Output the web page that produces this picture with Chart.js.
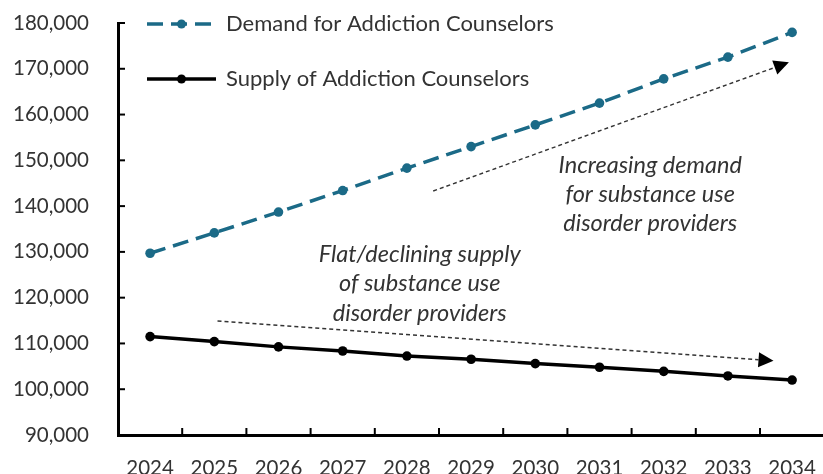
<!DOCTYPE html>
<html>
<head>
<meta charset="utf-8">
<script src="https://cdn.jsdelivr.net/npm/chart.js@4.4.1/dist/chart.umd.min.js"></script>
<style>
  html, body { margin: 0; padding: 0; background: #fff; overflow: hidden; }
  #wrap { width: 829px; height: 474px; }
  #c { width: 829px; height: 474px; display: block; }
</style>
</head>
<body>
<div id="wrap"><canvas id="c" width="829" height="474"></canvas></div>
<script>
// Projected counselor workforce, 2024-2034
const years = ['2024','2025','2026','2027','2028','2029','2030','2031','2032','2033','2034'];
const demand = [129700, 134150, 138700, 143400, 148300, 153000, 157750, 162500, 167800, 172550, 177950];
const supply = [111500, 110400, 109250, 108350, 107250, 106550, 105600, 104800, 103900, 102900, 102000];
const seriesNames = ['Demand for Addiction Counselors', 'Supply of Addiction Counselors'];
const yMin = 90000, yMax = 180000, yStep = 5000, yLabelStep = 10000;

// Callout notes: arrows given as [category index, value] pairs, text anchored the same way
const demandNote = ['Increasing demand', 'for substance use', 'disorder providers'];
const supplyNote = ['Flat/declining supply', 'of substance use', 'disorder providers'];
const demandArrow = { from: [4.41, 143300], to: [9.95, 171400] };
const supplyArrow = { from: [1.05, 114900], to: [9.71, 106200] };
const demandNoteAt = [7.79, 148800];
const supplyNoteAt = [4.20, 129550];

const TEAL = '#1b6a87';
const TEXT = '#333333';
const FONT = 'Lato, "Open Sans", sans-serif';

function px(chart, pt) {
  const x = chart.scales.x, y = chart.scales.y;
  const p0 = x.getPixelForValue(0), p1 = x.getPixelForValue(1);
  return [p0 + (p1 - p0) * pt[0], y.getPixelForValue(pt[1])];
}

function drawArrow(ctx, a, b) {
  const ang = Math.atan2(b[1] - a[1], b[0] - a[0]);
  const head = 15, half = 7.5;
  const bx = b[0] - head * Math.cos(ang), by = b[1] - head * Math.sin(ang);
  ctx.save();
  ctx.strokeStyle = '#333';
  ctx.lineWidth = 1.4;
  ctx.setLineDash([4, 3]);
  ctx.beginPath();
  ctx.moveTo(a[0], a[1]);
  ctx.lineTo(bx, by);
  ctx.stroke();
  ctx.setLineDash([]);
  ctx.fillStyle = '#000';
  ctx.beginPath();
  ctx.moveTo(b[0], b[1]);
  ctx.lineTo(bx + half * Math.sin(ang), by - half * Math.cos(ang));
  ctx.lineTo(bx - half * Math.sin(ang), by + half * Math.cos(ang));
  ctx.closePath();
  ctx.fill();
  ctx.restore();
}

function drawNote(ctx, lines, at, lh) {
  ctx.save();
  ctx.fillStyle = TEXT;
  ctx.font = 'italic 23.5px ' + FONT;
  ctx.textAlign = 'center';
  ctx.textBaseline = 'middle';
  lines.forEach((s, i) => ctx.fillText(s, at[0], at[1] + i * lh));
  ctx.restore();
}

const decor = {
  id: 'decor',
  afterDraw(chart) {
    const ctx = chart.ctx, area = chart.chartArea;
    const xs = chart.scales.x, ys = chart.scales.y;
    ctx.save();
    ctx.strokeStyle = '#000';
    ctx.lineWidth = 2;
    // inward ticks on the value axis
    ys.ticks.forEach(t => {
      const yy = ys.getPixelForValue(t.value);
      ctx.beginPath();
      ctx.moveTo(area.left, yy);
      ctx.lineTo(area.left + 7, yy);
      ctx.stroke();
    });
    // inward ticks between categories
    for (let i = 0; i < years.length - 1; i++) {
      const xx = (xs.getPixelForTick(i) + xs.getPixelForTick(i + 1)) / 2;
      ctx.beginPath();
      ctx.moveTo(xx, area.bottom);
      ctx.lineTo(xx, area.bottom - 7);
      ctx.stroke();
    }
    ctx.restore();

    // legend inside the plot
    const lx = area.left + 29, lw = 69;
    const rows = [
      { y: area.top + 1, color: TEAL, dash: [16, 8], width: 3.5 },
      { y: area.top + 56, color: '#000', dash: [], width: 3.5 }
    ];
    rows.forEach((r, i) => {
      ctx.save();
      ctx.strokeStyle = r.color;
      ctx.lineWidth = r.width;
      ctx.setLineDash(r.dash);
      ctx.beginPath();
      ctx.moveTo(lx, r.y);
      ctx.lineTo(lx + lw, r.y);
      ctx.stroke();
      ctx.setLineDash([]);
      ctx.fillStyle = r.color;
      ctx.beginPath();
      ctx.arc(lx + lw / 2, r.y, 4.5, 0, Math.PI * 2);
      ctx.fill();
      ctx.fillStyle = TEXT;
      ctx.font = '22px ' + FONT;
      ctx.textAlign = 'left';
      ctx.textBaseline = 'middle';
      ctx.fillText(seriesNames[i], lx + lw + 10, r.y);
      ctx.restore();
    });

    // callouts
    drawArrow(ctx, px(chart, demandArrow.from), px(chart, demandArrow.to));
    drawArrow(ctx, px(chart, supplyArrow.from), px(chart, supplyArrow.to));
    drawNote(ctx, demandNote, px(chart, demandNoteAt), 29);
    drawNote(ctx, supplyNote, px(chart, supplyNoteAt), 29.5);
  }
};

new Chart(document.getElementById('c'), {
  type: 'line',
  data: {
    labels: years,
    datasets: [
      {
        label: seriesNames[0],
        data: demand,
        borderColor: TEAL,
        backgroundColor: TEAL,
        borderWidth: 3.5,
        borderDash: [16, 8],
        pointRadius: 4.8,
        pointBorderWidth: 0,
        pointBackgroundColor: TEAL,
        tension: 0
      },
      {
        label: seriesNames[1],
        data: supply,
        borderColor: '#000',
        backgroundColor: '#000',
        borderWidth: 3.5,
        pointRadius: 4.8,
        pointBorderWidth: 0,
        pointBackgroundColor: '#000',
        tension: 0
      }
    ]
  },
  options: {
    responsive: false,
    animation: false,
    devicePixelRatio: 1,
    layout: { padding: { top: 23, right: 0, left: 0, bottom: 0 } },
    plugins: {
      legend: { display: false },
      tooltip: { enabled: false }
    },
    scales: {
      x: {
        type: 'category',
        offset: true,
        grid: { display: false, drawTicks: false },
        border: { display: true, color: '#000', width: 3 },
        ticks: {
          color: TEXT,
          font: { family: FONT, size: 20.5 },
          padding: 21,
          maxRotation: 0,
          autoSkip: false
        },
        afterFit(s) {
          s.height = 39;
          s.paddingLeft = 0; s.paddingRight = 0; s.paddingTop = 0; s.paddingBottom = 0;
        }
      },
      y: {
        min: yMin,
        max: yMax,
        grid: { display: false, drawTicks: false },
        border: { display: true, color: '#000', width: 3 },
        ticks: {
          stepSize: yStep,
          color: TEXT,
          font: { family: FONT, size: 20.5 },
          padding: 29,
          callback: v => (v % yLabelStep === 0 ? v.toLocaleString('en-US') : '')
        },
        afterFit(s) {
          s.width = 118;
          s.paddingLeft = 0; s.paddingRight = 0; s.paddingTop = 0; s.paddingBottom = 0;
        }
      }
    }
  },
  plugins: [decor]
});
</script>
</body>
</html>
